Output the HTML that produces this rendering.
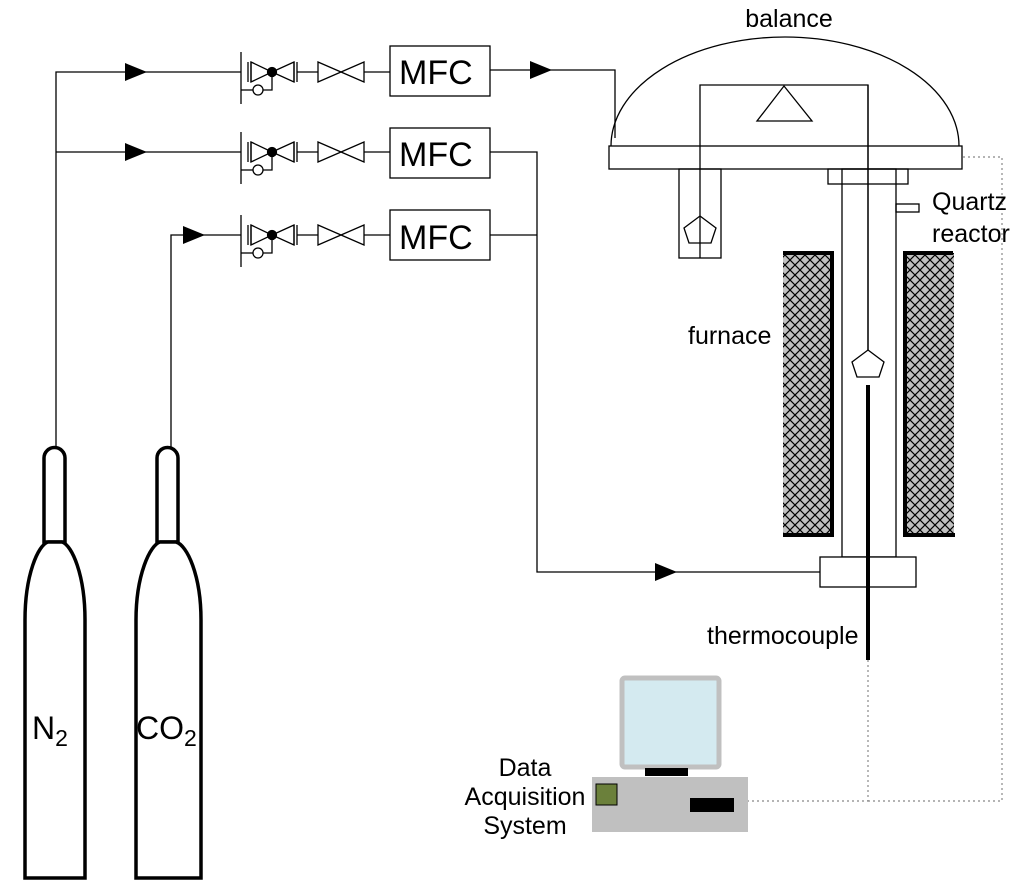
<!DOCTYPE html>
<html><head><meta charset="utf-8"><style>html,body{margin:0;padding:0;background:#fff}svg{display:block}text{font-family:"Liberation Sans",Arial,sans-serif;fill:#000}</style></head><body>
<svg width="1024" height="896" viewBox="0 0 1024 896" xmlns="http://www.w3.org/2000/svg">
<defs>
<pattern id="hatch" width="10" height="10" patternUnits="userSpaceOnUse">
<rect width="10" height="10" fill="#c0c0c0"/>
<path d="M0,0 L10,10 M10,0 L0,10" stroke="#000" stroke-width="1.2"/>
</pattern>
<g id="valves" fill="none" stroke="#000" stroke-width="1.3">
<line x1="241" y1="-20" x2="241" y2="32"/>
<line x1="248" y1="-10" x2="248" y2="10"/><line x1="251" y1="-10" x2="251" y2="10"/>
<path d="M251,-10 L272,0 L251,10 Z"/><path d="M294,-10 L272,0 L294,10 Z"/>
<line x1="294" y1="-10" x2="294" y2="10"/><line x1="297" y1="-10" x2="297" y2="10"/>
<line x1="297" y1="0" x2="318" y2="0"/>
<path d="M318,-10 L364,10 L364,-10 L318,10 Z"/>
<line x1="364" y1="0" x2="390" y2="0"/>
<line x1="241" y1="18" x2="253" y2="18"/>
<circle cx="258" cy="18" r="5" fill="#fff"/>
<path d="M263,18 H272 V0"/>
<circle cx="272" cy="0" r="4.5" fill="#000"/>
</g>
</defs>
<g fill="none" stroke="#000" stroke-width="1.3">
<path d="M56,447 V72 H241"/>
<path d="M56,152 H241"/>
<path d="M171,447 V235 H241"/>
<path d="M490,70 H615 V138"/>
<path d="M490,152 H537 V572 H820"/>
<path d="M490,235 H537"/>
<rect x="390" y="46" width="100" height="50"/>
<rect x="390" y="128" width="100" height="50"/>
<rect x="390" y="210" width="100" height="50"/>
</g>
<use href="#valves" y="72"/>
<use href="#valves" y="152"/>
<use href="#valves" y="235"/>
<g fill="#000">
<path d="M125,63 L147,72 L125,81 Z"/>
<path d="M125,143 L147,152 L125,161 Z"/>
<path d="M183,226 L205,235 L183,244 Z"/>
<path d="M530,61 L552,70 L530,79 Z"/>
<path d="M655,563 L677,572 L655,581 Z"/>
</g>
<g font-size="34"><text x="399" y="84">MFC</text><text x="399" y="166">MFC</text><text x="399" y="249">MFC</text></g>
<g fill="#fff" stroke="#000" stroke-width="3.5">
<path d="M44,542 V458 A10.5,10.5 0 0 1 65,458 V542 Z"/>
<path d="M25,878 V620 C25,575 38,545 48,542 H62 C72,545 85,575 85,620 V878 Z"/>
<path d="M157,542 V458 A10.5,10.5 0 0 1 178,458 V542 Z"/>
<path d="M136,878 V620 C136,575 150,545 160,542 H176 C187,545 201,575 201,620 V878 Z"/>
</g>
<text x="32" y="739" font-size="32">N<tspan font-size="23" dy="7">2</tspan></text>
<text x="136" y="739" font-size="32">CO<tspan font-size="23" dy="7">2</tspan></text>
<g fill="none" stroke="#000" stroke-width="1.3">
<path d="M611,146 A174,109 0 0 1 959,146"/>
<rect x="609" y="146" width="353" height="23" fill="#fff"/>
<path d="M700,258 V85 H868 V350"/>
<path d="M757,121 L812,121 L784,86 Z"/>
<rect x="679" y="169" width="42" height="89"/>
<path d="M700,216 L716,228 L711,243 L689,243 L684,228 Z"/>
<rect x="828" y="169" width="80" height="15"/>
<rect x="842" y="169" width="54" height="388" fill="none"/>
<rect x="896" y="204" width="23" height="8"/>
<path d="M868,350 L884,362 L879,377 L857,377 L852,362 Z"/>
<rect x="820" y="557" width="96" height="30" fill="#fff"/>
</g>
<line x1="868" y1="85" x2="868" y2="350" stroke="#000" stroke-width="1.3"/>
<rect x="783" y="253" width="48" height="282" fill="url(#hatch)"/>
<rect x="906" y="253" width="48" height="282" fill="url(#hatch)"/>
<g stroke="#000" stroke-width="4" fill="none">
<path d="M783,253 H832 V535 M783,535 H834"/>
<path d="M953,253 H905 V535 M903,535 H955"/>
<line x1="868" y1="385" x2="868" y2="660"/>
</g>
<g fill="none" stroke="#888" stroke-width="1.2" stroke-dasharray="2,3">
<path d="M868,660 V801 H748"/>
<path d="M868,801 H1002 V157 H962"/>
</g>
<rect x="622" y="678" width="97" height="89" rx="3" fill="#d4eaf0" stroke="#c0c0c0" stroke-width="5"/>
<rect x="645" y="768" width="43" height="8" fill="#000"/>
<rect x="592" y="777" width="156" height="55" fill="#c0c0c0"/>
<rect x="596" y="784" width="21" height="21" fill="#6b803b" stroke="#000" stroke-width="1"/>
<rect x="690" y="798" width="44" height="14" fill="#000"/>
<g font-size="25">
<text x="789" y="27" text-anchor="middle">balance</text>
<text x="932" y="210">Quartz</text>
<text x="932" y="242">reactor</text>
<text x="688" y="344">furnace</text>
<text x="707" y="644">thermocouple</text>
<text x="525" y="776" text-anchor="middle">Data</text>
<text x="525" y="805" text-anchor="middle">Acquisition</text>
<text x="525" y="834" text-anchor="middle">System</text>
</g>
</svg>
</body></html>
